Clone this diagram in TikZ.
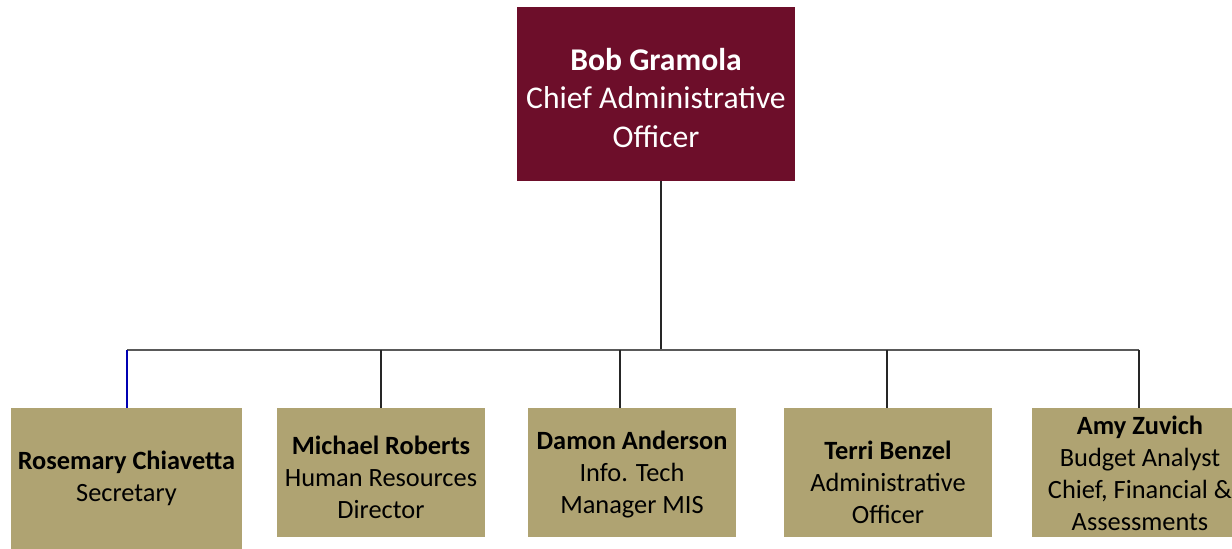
\documentclass[tikz,border=0pt]{standalone}
\usepackage{fontspec}
\setmainfont{Carlito}
\definecolor{caored}{HTML}{6D0E2A}
\definecolor{stafftan}{HTML}{AFA372}
\tikzset{
    chiefbox/.style={fill=caored, minimum width=5.56cm, minimum height=3.48cm},
    chieftext/.style={text=white, inner sep=1pt, align=center, font=\fontsize{18}{22}\selectfont},
    staffbox/.style={fill=stafftan, minimum width=4.16cm, minimum height=2.58cm,
        inner sep=1pt, align=center, font=\fontsize{15}{18.1}\selectfont},
    stafftext/.style={inner sep=1pt, align=center, font=\fontsize{15}{18.1}\selectfont},
    busline/.style={draw=black!65, line width=0.7pt},
    dropline/.style={draw=black!85, line width=0.6pt}
}
\begin{document}
\begin{tikzpicture}
    \useasboundingbox (0,0) rectangle (24.64,-10.98);
    % top
    \node[chiefbox] (bob) at (13.12,-1.88) {};
    \node[chieftext] (bobtext) at ([yshift=-0.08cm]bob.center) {\textbf{Bob Gramola}\\Chief Administrative\\Officer};
    % staff
    \node[staffbox, minimum width=4.62cm, minimum height=2.82cm] (rosemary) at (2.53,-9.57)
        {\textbf{Rosemary Chiavetta}\\Secretary};
    \node[staffbox] (michael) at (7.62,-9.45) {};
    \node[stafftext] (michaeltext) at ([yshift=-0.1cm]michael.center) {\textbf{Michael Roberts}\\Human Resources\\Director};
    \node[staffbox] (damon) at (12.64,-9.45) {};
    \node[stafftext] (damontext) at ([yshift=-0.04cm]damon.center) {\textbf{Damon Anderson}\\Info. Tech\\Manager MIS};
    \node[staffbox] (terri) at (17.76,-9.45) {};
    \node[stafftext] (territext) at ([yshift=-0.2cm]terri.center) {\textbf{Terri Benzel}\\Administrative\\Officer};
    \node[staffbox, minimum width=4cm] (amy) at (22.64,-9.45) {};
    \node[stafftext] (amytext) at ([xshift=0.16cm,yshift=-0.02cm]amy.center)
        {\textbf{Amy Zuvich}\\Budget Analyst\\Chief, Financial \&\\Assessments};
    % lines
    \coordinate (top) at (13.22,-3.62);
    \coordinate (busa) at (2.54,-7);
    \coordinate (busb) at (7.62,-7);
    \coordinate (busc) at (12.4,-7);
    \coordinate (busm) at (13.22,-7);
    \coordinate (busd) at (17.74,-7);
    \coordinate (buse) at (22.78,-7);
    \draw[dropline] (top) -- (busm);
    \draw[busline] (busa) -- (buse);
    \draw[blue!70!black, line width=0.6pt] (busa) -- (busa |- rosemary.north);
    \draw[dropline] (busb) -- (busb |- michael.north);
    \draw[dropline] (busc) -- (busc |- damon.north);
    \draw[dropline] (busd) -- (busd |- terri.north);
    \draw[dropline] (buse) -- (buse |- amy.north);
\end{tikzpicture}
\end{document}
